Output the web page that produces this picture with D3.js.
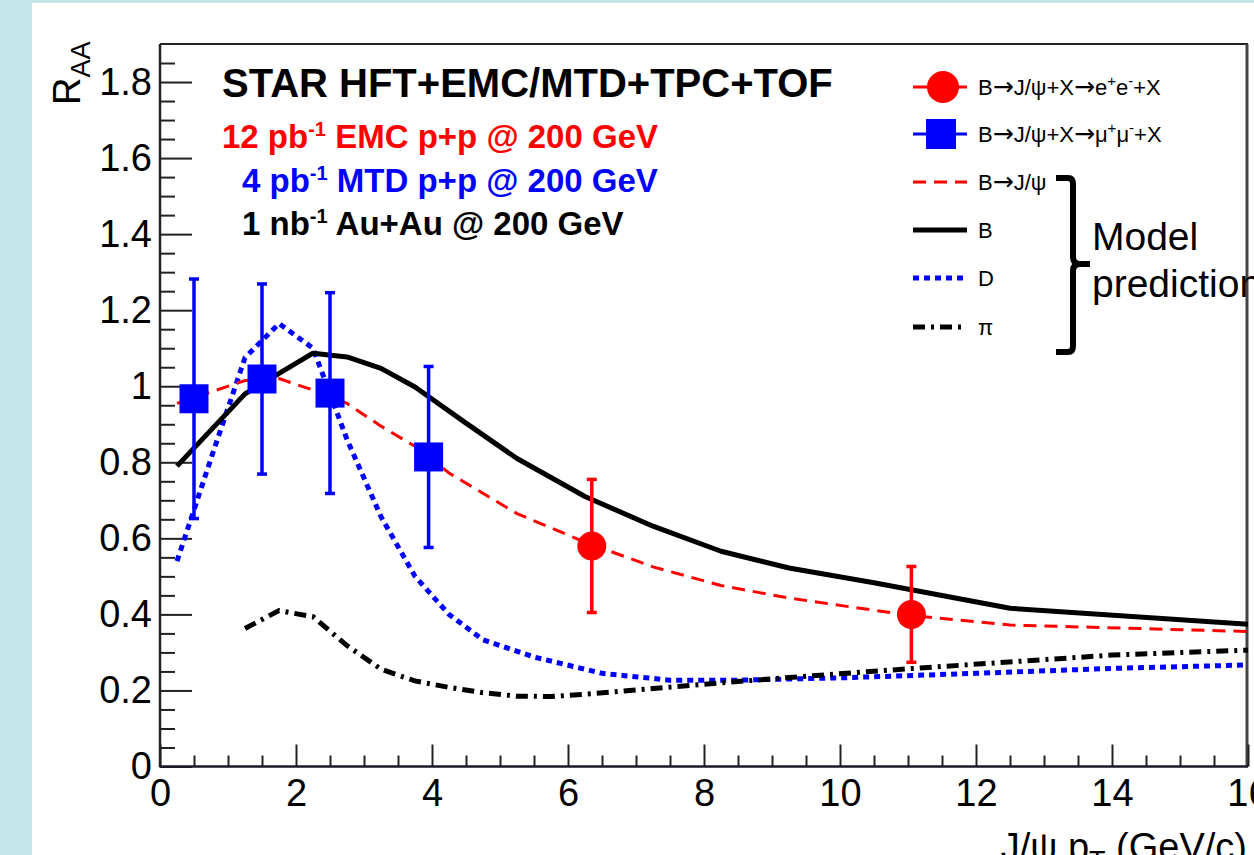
<!DOCTYPE html>
<html>
<head>
<meta charset="utf-8">
<script src="https://cdn.jsdelivr.net/npm/d3@7"></script>
<style>
  html, body { margin: 0; padding: 0; background: #c5e5e9; overflow: hidden; }
  svg { display: block; font-family: "Liberation Sans", Arial, Helvetica, sans-serif; }
</style>
</head>
<body>
<svg id="chart" width="1254" height="855"></svg>
<script>
// ---------- data ----------
const xTicks = [0, 2, 4, 6, 8, 10, 12, 14, 16];
const xTickLabels = ["0", "2", "4", "6", "8", "10", "12", "14", "16"];
const yTicks = [0, 0.2, 0.4, 0.6, 0.8, 1, 1.2, 1.4, 1.6, 1.8];
const yTickLabels = ["0", "0.2", "0.4", "0.6", "0.8", "1", "1.2", "1.4", "1.6", "1.8"];

// model B (black solid)
const bPt  = [0.25, 1.25, 2.25, 2.75, 3.25, 3.75, 4.5, 5.25, 6.25, 7.25, 8.25, 9.25, 10.5, 12.5, 16];
const bRaa = [0.79, 0.98, 1.087, 1.077, 1.047, 0.998, 0.903, 0.81, 0.71, 0.632, 0.566, 0.522, 0.483, 0.416, 0.374];
// model B->J/psi (red dashed)
const jpsiPt  = [0.25, 1.25, 1.75, 2.25, 2.75, 3.25, 3.75, 4.25, 5.25, 6.25, 7.25, 8.25, 9.25, 11, 12.5, 16];
const jpsiRaa = [0.955, 1.015, 1.02, 0.99, 0.955, 0.895, 0.842, 0.772, 0.665, 0.59, 0.525, 0.476, 0.443, 0.398, 0.372, 0.355];
// model D (blue dotted)
const dPt  = [0.25, 0.75, 1.25, 1.75, 2.25, 2.75, 3.25, 3.75, 4.25, 4.75, 5.5, 6.5, 7.5, 8.5, 10, 12, 14, 16];
const dRaa = [0.54, 0.81, 1.075, 1.165, 1.1, 0.86, 0.657, 0.50, 0.40, 0.333, 0.288, 0.245, 0.227, 0.227, 0.233, 0.245, 0.258, 0.267];
// model pi (black dash-dot)
const piPt  = [1.25, 1.75, 2.25, 2.75, 3.25, 3.75, 4.25, 4.75, 5.25, 5.75, 6.25, 7.25, 8.25, 9.25, 11, 14, 16];
const piRaa = [0.363, 0.41, 0.394, 0.318, 0.256, 0.225, 0.208, 0.194, 0.185, 0.184, 0.19, 0.205, 0.22, 0.234, 0.257, 0.293, 0.306];

// projected data: B->J/psi->mu mu (blue squares)
const muPt  = [0.5, 1.5, 2.5, 3.95];
const muRaa = [0.967, 1.019, 0.982, 0.814];
const muErr = [0.315, 0.25, 0.264, 0.238];
// projected data: B->J/psi->ee (red circles)
const eePt  = [6.35, 11.05];
const eeRaa = [0.58, 0.40];
const eeErr = [0.175, 0.126];

// ---------- drawing ----------
const svg = d3.select("#chart");
const W = 1254, H = 855;
const RED = "#ff0000", BLUE = "#0000ff";

svg.append("rect").attr("x", 0).attr("y", 0).attr("width", W).attr("height", H).attr("fill", "#c5e5e9");
svg.append("rect").attr("x", 32).attr("y", 3).attr("width", W).attr("height", H).attr("fill", "#ffffff");

const x = d3.scaleLinear().domain([0, 16]).range([160, 1248]);
const y = d3.scaleLinear().domain([0, 1.9]).range([766.5, 44]);

// frame
svg.append("line").attr("x1", 160).attr("x2", 1248).attr("y1", y(1.9)).attr("y2", y(1.9))
  .attr("stroke", "#222").attr("stroke-width", 2);
svg.append("line").attr("x1", 1247).attr("x2", 1247).attr("y1", y(1.9)).attr("y2", y(0))
  .attr("stroke", "#444").attr("stroke-width", 3);

// minor ticks
const yMinor = d3.range(0, 38).map(i => +(i * 0.05).toFixed(2)).filter(v => !yTicks.includes(v));
const xMinor = d3.range(0, 33).map(i => i * 0.5).filter(v => !xTicks.includes(v));

const gyMinor = svg.append("g").attr("transform", `translate(${x(0)},0)`)
  .call(d3.axisLeft(y).tickValues(yMinor).tickSize(-15).tickSizeOuter(0).tickFormat(""));
const gxMinor = svg.append("g").attr("transform", `translate(0,${y(0)})`)
  .call(d3.axisBottom(x).tickValues(xMinor).tickSize(-11).tickSizeOuter(0).tickFormat(""));

const gy = svg.append("g").attr("transform", `translate(${x(0)},0)`)
  .call(d3.axisLeft(y).tickValues(yTicks).tickSize(-32).tickSizeOuter(0).tickPadding(8)
    .tickFormat((d, i) => yTickLabels[i]));
const gx = svg.append("g").attr("transform", `translate(0,${y(0)})`)
  .call(d3.axisBottom(x).tickValues(xTicks).tickSize(-22).tickSizeOuter(0).tickPadding(13)
    .tickFormat((d, i) => xTickLabels[i]));

[gyMinor, gxMinor, gy, gx].forEach(g => {
  g.selectAll(".domain").remove();
  g.selectAll(".tick line").attr("stroke", "#222").attr("stroke-width", 2);
  g.selectAll(".tick text").attr("fill", "#000").style("font-size", "38px")
    .style("font-family", '"Liberation Sans", Arial, sans-serif');
});
svg.append("line").attr("x1", x(0)).attr("x2", x(0)).attr("y1", y(1.9)).attr("y2", y(0) + 1)
  .attr("stroke", "#222").attr("stroke-width", 2.5);
svg.append("line").attr("x1", x(0)).attr("x2", 1248).attr("y1", y(0)).attr("y2", y(0))
  .attr("stroke", "#1a1a2a").attr("stroke-width", 2.5);

// model curves
const line = d3.line().x(d => x(d[0])).y(d => y(d[1]));
const zip = (a, b) => a.map((v, i) => [v, b[i]]);

svg.append("path").datum(zip(dPt, dRaa)).attr("d", line)
  .attr("fill", "none").attr("stroke", BLUE).attr("stroke-width", 5).attr("stroke-dasharray", "6,5");
svg.append("path").datum(zip(piPt, piRaa)).attr("d", line)
  .attr("fill", "none").attr("stroke", "#000").attr("stroke-width", 5).attr("stroke-dasharray", "12,6,3,6");
svg.append("path").datum(zip(jpsiPt, jpsiRaa)).attr("d", line)
  .attr("fill", "none").attr("stroke", RED).attr("stroke-width", 3).attr("stroke-dasharray", "13,8");
svg.append("path").datum(zip(bPt, bRaa)).attr("d", line)
  .attr("fill", "none").attr("stroke", "#000").attr("stroke-width", 5).attr("stroke-linejoin", "round");

// error bars + markers
function errBars(pts, vals, errs, color) {
  const g = svg.append("g");
  pts.forEach((p, i) => {
    const cx = x(p), top = y(vals[i] + errs[i]), bot = y(vals[i] - errs[i]);
    g.append("line").attr("x1", cx).attr("x2", cx).attr("y1", top).attr("y2", bot)
      .attr("stroke", color).attr("stroke-width", 3.5);
    [top, bot].forEach(yy => g.append("line").attr("x1", cx - 5).attr("x2", cx + 5)
      .attr("y1", yy).attr("y2", yy).attr("stroke", color).attr("stroke-width", 3.5));
  });
}
errBars(muPt, muRaa, muErr, BLUE);
errBars(eePt, eeRaa, eeErr, RED);

const SQ = 29;
svg.append("g").selectAll("rect").data(zip(muPt, muRaa)).join("rect")
  .attr("x", d => x(d[0]) - SQ / 2).attr("y", d => y(d[1]) - SQ / 2)
  .attr("width", SQ).attr("height", SQ).attr("fill", BLUE);
svg.append("g").selectAll("circle").data(zip(eePt, eeRaa)).join("circle")
  .attr("cx", d => x(d[0])).attr("cy", d => y(d[1])).attr("r", 14.5).attr("fill", RED);

// rich text helper: parts {t, sup, sub, arrow}
function richText(g, xx, yy, parts, size, color, weight, supSize, shift) {
  const t = g.append("text").attr("x", xx).attr("y", yy).attr("fill", color)
    .style("font-size", size + "px").style("font-weight", weight);
  let cur = 0;
  parts.forEach(p => {
    const target = p.sup ? -shift : 0;
    const ts = t.append("tspan").text(p.t);
    if (target !== cur) { ts.attr("dy", target - cur); cur = target; }
    if (p.sup) ts.style("font-size", supSize + "px");
    if (p.arrow) ts.style("font-family", '"DejaVu Sans", sans-serif').style("font-size", (size + 3) + "px");
  });
  return t;
}
const hdr = svg.append("g");
hdr.append("text").attr("x", 222).attr("y", 97).attr("fill", "#000")
  .style("font-size", "40px").style("font-weight", "bold").text("STAR HFT+EMC/MTD+TPC+TOF");
richText(hdr, 222, 148, [{t: "12 pb"}, {t: "-1", sup: 1}, {t: " EMC p+p @ 200 GeV"}], 33, RED, "bold", 20, 12);
richText(hdr, 242, 192, [{t: "4 pb"}, {t: "-1", sup: 1}, {t: " MTD p+p @ 200 GeV"}], 33, BLUE, "bold", 20, 12);
richText(hdr, 242, 235, [{t: "1 nb"}, {t: "-1", sup: 1}, {t: " Au+Au @ 200 GeV"}], 33, "#000", "bold", 20, 12);

// legend
const lg = svg.append("g");
const LX1 = 913, LX2 = 967, TX = 978;
const legY = [87, 134, 182, 230, 278, 327];
lg.append("line").attr("x1", LX1).attr("x2", LX2).attr("y1", legY[0]).attr("y2", legY[0]).attr("stroke", RED).attr("stroke-width", 3);
lg.append("circle").attr("cx", 943).attr("cy", legY[0]).attr("r", 16).attr("fill", RED);
lg.append("line").attr("x1", LX1).attr("x2", LX2).attr("y1", legY[1]).attr("y2", legY[1]).attr("stroke", BLUE).attr("stroke-width", 3);
lg.append("rect").attr("x", 941 - 15).attr("y", legY[1] - 15).attr("width", 30).attr("height", 30).attr("fill", BLUE);
lg.append("line").attr("x1", LX1).attr("x2", LX2).attr("y1", legY[2]).attr("y2", legY[2]).attr("stroke", RED).attr("stroke-width", 3).attr("stroke-dasharray", "13,8");
lg.append("line").attr("x1", LX1).attr("x2", LX2).attr("y1", legY[3]).attr("y2", legY[3]).attr("stroke", "#000").attr("stroke-width", 5);
lg.append("line").attr("x1", LX1).attr("x2", LX2).attr("y1", legY[4]).attr("y2", legY[4]).attr("stroke", BLUE).attr("stroke-width", 5).attr("stroke-dasharray", "6,5");
lg.append("line").attr("x1", LX1).attr("x2", LX2).attr("y1", legY[5]).attr("y2", legY[5]).attr("stroke", "#000").attr("stroke-width", 5).attr("stroke-dasharray", "12,6,3,6");

const A = {t: "→", arrow: 1};
richText(lg, TX, legY[0] + 8, [{t: "B"}, A, {t: "J/ψ+X"}, A, {t: "e"}, {t: "+", sup: 1}, {t: "e"}, {t: "-", sup: 1}, {t: "+X"}], 22, "#000", "normal", 15, 9);
richText(lg, TX, legY[1] + 8, [{t: "B"}, A, {t: "J/ψ+X"}, A, {t: "μ"}, {t: "+", sup: 1}, {t: "μ"}, {t: "-", sup: 1}, {t: "+X"}], 22, "#000", "normal", 15, 9);
richText(lg, TX, legY[2] + 8, [{t: "B"}, A, {t: "J/ψ"}], 22, "#000", "normal", 15, 9);
const legPlain = ["B", "D", "π"];
legPlain.forEach((s, i) => lg.append("text").attr("x", TX).attr("y", legY[i + 3] + 8)
  .style("font-size", "22px").attr("fill", "#000").text(s));

// bracket + model prediction
lg.append("path")
  .attr("d", "M1056,178 L1068,178 Q1073,178 1073,184 L1073,257 Q1073,264 1080,264 L1090,264 M1080,264 Q1073,264 1073,271 L1073,346 Q1073,352 1068,352 L1056,352")
  .attr("fill", "none").attr("stroke", "#000").attr("stroke-width", 6);
lg.append("text").attr("x", 1092).attr("y", 250).style("font-size", "39px").attr("fill", "#000").text("Model");
lg.append("text").attr("x", 1092).attr("y", 297).style("font-size", "39px").attr("fill", "#000").text("prediction");

// axis titles
const yt = svg.append("text").attr("transform", "translate(80,105) rotate(-90)")
  .style("font-size", "38px").attr("fill", "#000");
yt.append("tspan").text("R");
yt.append("tspan").attr("dy", 10).style("font-size", "27px").text("AA");

const xt = svg.append("text").attr("x", 1247).attr("y", 860).attr("text-anchor", "end")
  .style("font-size", "38px").attr("fill", "#000");
xt.append("tspan").text("J/ψ p");
xt.append("tspan").attr("dy", 10).style("font-size", "27px").text("T");
xt.append("tspan").attr("dy", -10).text(" (GeV/c)");
</script>
</body>
</html>
